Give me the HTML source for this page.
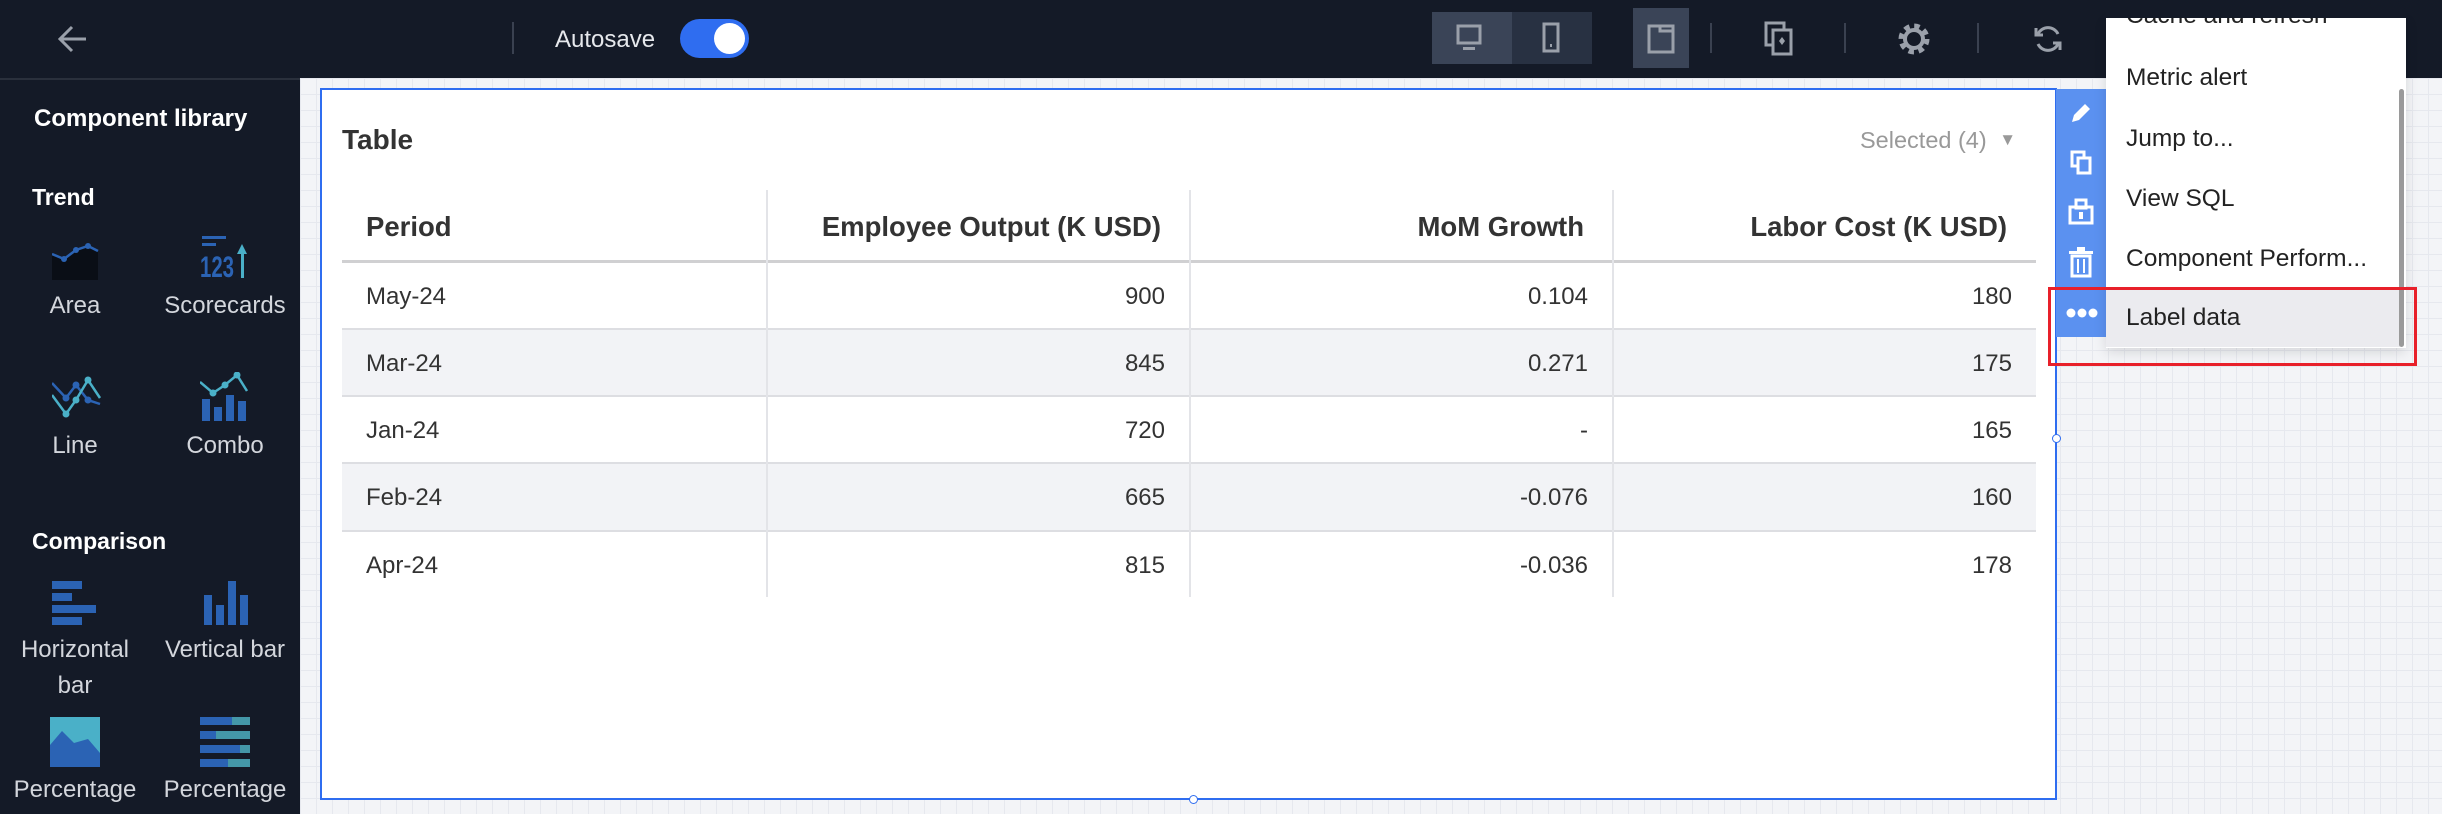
<!DOCTYPE html>
<html><head><meta charset="utf-8"><style>
*{margin:0;padding:0;box-sizing:border-box}
body{width:2442px;height:814px;overflow:hidden;position:relative;font-family:"Liberation Sans",Arial,sans-serif;background:#f3f4f7}
.a{position:absolute;white-space:nowrap}
#top{left:0;top:0;width:2442px;height:78px;background:#141a27}
#side{left:0;top:78px;width:300px;height:736px;background:#141a27;border-top:2px solid #2a303c}
#grid{left:300px;top:78px;width:2142px;height:736px;background-color:#f3f4f7;background-image:linear-gradient(#e6e8ee 1px,transparent 1px),linear-gradient(90deg,#e6e8ee 1px,transparent 1px);background-size:16px 16px}
.sl{color:#d3d6dc;font-size:24px;text-align:center;width:150px}
.sh{color:#fff;font-weight:bold;font-size:23px}
.cell{font-size:24px;color:#333}
.hd{font-size:27.5px;font-weight:bold;color:#333}
.mi{font-size:24.5px;color:#222;left:2126px}
</style></head><body>
<div class="a" id="top"></div>
<div class="a" id="side"></div>
<div class="a" id="grid"></div>

<!-- top bar -->
<svg class="a" style="left:56px;top:24px" width="34" height="30"><path d="M30 15H4M16 3L4 15l12 12" stroke="#9aa0aa" stroke-width="3" fill="none"/></svg>
<div class="a" style="left:512px;top:22px;width:2px;height:32px;background:#3a4150"></div>
<div class="a" style="left:555px;top:26px;color:#e6e8ec;font-size:24px">Autosave</div>
<div class="a" style="left:680px;top:19px;width:69px;height:39px;border-radius:20px;background:#2f6df0"></div>
<div class="a" style="left:714px;top:23px;width:31px;height:31px;border-radius:50%;background:#fff"></div>
<div class="a" style="left:1432px;top:12px;width:80px;height:52px;background:#3a4457"></div>
<div class="a" style="left:1512px;top:12px;width:80px;height:52px;background:#283142"></div>
<svg class="a" style="left:1455px;top:24px" width="34" height="28"><rect x="3" y="2" width="22" height="17" fill="none" stroke="#9aa0aa" stroke-width="3"/><rect x="8" y="23" width="12" height="3" fill="#9aa0aa"/></svg>
<svg class="a" style="left:1540px;top:22px" width="24" height="34"><rect x="4" y="2" width="14" height="27" fill="none" stroke="#9aa0aa" stroke-width="3"/><rect x="10" y="22" width="2" height="3" fill="#9aa0aa"/></svg>
<div class="a" style="left:1633px;top:8px;width:56px;height:60px;background:#3a4457"></div>
<svg class="a" style="left:1646px;top:22px" width="32" height="34"><rect x="3" y="4" width="24" height="26" fill="none" stroke="#9aa0aa" stroke-width="3"/><path d="M14 4v5h13" stroke="#9aa0aa" stroke-width="3" fill="none"/></svg>
<div class="a" style="left:1710px;top:23px;width:2px;height:30px;background:#3a4150"></div>
<div class="a" style="left:1844px;top:23px;width:2px;height:30px;background:#3a4150"></div>
<div class="a" style="left:1977px;top:23px;width:2px;height:30px;background:#3a4150"></div>
<svg class="a" style="left:1764px;top:21px" width="32" height="36"><rect x="2" y="2" width="18" height="22" fill="none" stroke="#9aa0aa" stroke-width="3"/><rect x="9" y="9" width="18" height="24" fill="#141a27" stroke="#9aa0aa" stroke-width="3"/><path d="M18 16l3 4-3 4-3-4z" fill="#9aa0aa"/></svg>
<svg class="a" style="left:1895px;top:20px" width="38" height="38"><circle cx="19" cy="19" r="12" fill="none" stroke="#9aa0aa" stroke-width="7" stroke-dasharray="5 4.4"/><circle cx="19" cy="19" r="9" fill="none" stroke="#9aa0aa" stroke-width="4"/></svg>
<svg class="a" style="left:2032px;top:22px" width="32" height="34"><path d="M26 12A11 11 0 0 0 6 12M6 22a11 11 0 0 0 20 0" stroke="#9aa0aa" stroke-width="3" fill="none"/><path d="M4 6v7h7M28 28v-7h-7" stroke="#9aa0aa" stroke-width="3" fill="none"/></svg>

<!-- sidebar -->
<div class="a" style="left:34px;top:105px;color:#fff;font-weight:bold;font-size:24px">Component library</div>
<div class="a sh" style="left:32px;top:184px">Trend</div>
<svg class="a" style="left:52px;top:240px" width="48" height="42"><path d="M0 14L12 19 24 10 36 6 46 11V40H0z" fill="#0a0e16"/><path d="M0 14L12 19 24 10 36 6 46 11" stroke="#2b63b4" stroke-width="2.5" fill="none"/><circle cx="12" cy="19" r="3" fill="#2b63b4"/><circle cx="24" cy="10" r="3" fill="#2b63b4"/><circle cx="36" cy="6" r="3" fill="#2b63b4"/></svg>
<div class="a sl" style="left:0;top:292px">Area</div>
<svg class="a" style="left:200px;top:236px" width="50" height="44"><rect x="2" y="0" width="24" height="3" fill="#2b63b4"/><rect x="2" y="7" width="14" height="3" fill="#2b63b4"/><text x="0" y="41" font-family="Liberation Sans Narrow,Liberation Sans" font-weight="bold" font-size="30" fill="#2b63b4" textLength="34" lengthAdjust="spacingAndGlyphs">123</text><rect x="41" y="14" width="3" height="28" fill="#4ab0c8"/><path d="M37 18l5-10 5 10z" fill="#4ab0c8"/></svg>
<div class="a sl" style="left:150px;top:292px">Scorecards</div>
<svg class="a" style="left:52px;top:374px" width="50" height="44"><path d="M0 9L14 24 24 11 36 26 48 30" stroke="#2b63b4" stroke-width="2.5" fill="none"/><path d="M0 21L14 40 24 26 36 6 48 24" stroke="#4ab0c8" stroke-width="2.5" fill="none"/><circle cx="14" cy="24" r="3.5" fill="#2b63b4"/><circle cx="24" cy="11" r="3.5" fill="#2b63b4"/><circle cx="36" cy="26" r="3.5" fill="#2b63b4"/><circle cx="14" cy="40" r="3.5" fill="#4ab0c8"/><circle cx="24" cy="26" r="3.5" fill="#4ab0c8"/><circle cx="36" cy="6" r="3.5" fill="#4ab0c8"/></svg>
<div class="a sl" style="left:0;top:432px">Line</div>
<svg class="a" style="left:200px;top:372px" width="50" height="50"><rect x="2" y="27" width="8" height="22" fill="#2b63b4"/><rect x="14" y="35" width="8" height="14" fill="#2b63b4"/><rect x="26" y="23" width="8" height="26" fill="#2b63b4"/><rect x="38" y="29" width="8" height="20" fill="#2b63b4"/><path d="M0 10L13 21 25 13 37 3 47 19" stroke="#4ab0c8" stroke-width="2.5" fill="none"/><circle cx="13" cy="21" r="3.5" fill="#4ab0c8"/><circle cx="25" cy="13" r="3.5" fill="#4ab0c8"/><circle cx="37" cy="3" r="3.5" fill="#4ab0c8"/></svg>
<div class="a sl" style="left:150px;top:432px">Combo</div>
<div class="a sh" style="left:32px;top:528px">Comparison</div>
<svg class="a" style="left:52px;top:581px" width="46" height="46"><rect x="0" y="0" width="30" height="8" fill="#2b63b4"/><rect x="0" y="12" width="20" height="8" fill="#2b63b4"/><rect x="0" y="24" width="44" height="8" fill="#2b63b4"/><rect x="0" y="36" width="30" height="8" fill="#2b63b4"/></svg>
<div class="a sl" style="left:0;top:636px">Horizontal</div>
<div class="a sl" style="left:0;top:672px">bar</div>
<svg class="a" style="left:204px;top:581px" width="46" height="46"><rect x="0" y="14" width="8" height="30" fill="#2b63b4"/><rect x="12" y="24" width="8" height="20" fill="#2b63b4"/><rect x="24" y="0" width="8" height="44" fill="#2b63b4"/><rect x="36" y="14" width="8" height="30" fill="#2b63b4"/></svg>
<div class="a sl" style="left:150px;top:636px">Vertical bar</div>
<svg class="a" style="left:50px;top:717px" width="50" height="50"><rect width="50" height="50" fill="#4ab0c8"/><path d="M0 28L12 14 24 26 38 22 50 36V50H0z" fill="#2b63b4"/></svg>
<svg class="a" style="left:200px;top:717px" width="50" height="50"><rect x="0" y="0" width="32" height="8" fill="#2b63b4"/><rect x="32" y="0" width="18" height="8" fill="#4497a8"/><rect x="0" y="14" width="16" height="8" fill="#2b63b4"/><rect x="16" y="14" width="34" height="8" fill="#4497a8"/><rect x="0" y="28" width="40" height="8" fill="#2b63b4"/><rect x="40" y="28" width="10" height="8" fill="#4497a8"/><rect x="0" y="42" width="28" height="8" fill="#2b63b4"/><rect x="28" y="42" width="22" height="8" fill="#4497a8"/></svg>
<div class="a sl" style="left:0;top:776px">Percentage</div>
<div class="a sl" style="left:150px;top:776px">Percentage</div>

<!-- table panel -->
<div class="a" style="left:320px;top:88px;width:1737px;height:712px;background:#fff;border:2px solid #2f6df0"></div>
<div class="a" style="left:342px;top:124px;font-size:28px;font-weight:bold;color:#333">Table</div>
<div class="a" style="left:1860px;top:127px;font-size:23.5px;color:#999">Selected (4) <span style="font-size:17px;position:relative;top:-3px;margin-left:6px">▼</span></div>
<div class="a" style="left:342px;top:329px;width:1694px;height:67px;background:#f2f3f6"></div>
<div class="a" style="left:342px;top:463px;width:1694px;height:68px;background:#f2f3f6"></div>
<div class="a" style="left:342px;top:260px;width:1694px;height:3px;background:#d0d0d2"></div>
<div class="a" style="left:342px;top:328px;width:1694px;height:2px;background:#dddee2"></div>
<div class="a" style="left:342px;top:395px;width:1694px;height:2px;background:#dddee2"></div>
<div class="a" style="left:342px;top:462px;width:1694px;height:2px;background:#dddee2"></div>
<div class="a" style="left:342px;top:530px;width:1694px;height:2px;background:#dddee2"></div>
<div class="a" style="left:766px;top:190px;width:2px;height:407px;background:#e3e4e8"></div>
<div class="a" style="left:1189px;top:190px;width:2px;height:407px;background:#e3e4e8"></div>
<div class="a" style="left:1612px;top:190px;width:2px;height:407px;background:#e3e4e8"></div>

<div class="a hd" style="left:366px;top:211px">Period</div>
<div class="a hd" style="right:1281px;top:211px">Employee Output (K USD)</div>
<div class="a hd" style="right:858px;top:211px">MoM Growth</div>
<div class="a hd" style="right:435px;top:211px">Labor Cost (K USD)</div>

<div class="a cell" style="left:366px;top:283px">May-24</div>
<div class="a cell" style="left:366px;top:350px">Mar-24</div>
<div class="a cell" style="left:366px;top:417px">Jan-24</div>
<div class="a cell" style="left:366px;top:484px">Feb-24</div>
<div class="a cell" style="left:366px;top:552px">Apr-24</div>
<div class="a cell" style="right:1277px;top:283px">900</div>
<div class="a cell" style="right:1277px;top:350px">845</div>
<div class="a cell" style="right:1277px;top:417px">720</div>
<div class="a cell" style="right:1277px;top:484px">665</div>
<div class="a cell" style="right:1277px;top:552px">815</div>
<div class="a cell" style="right:854px;top:283px">0.104</div>
<div class="a cell" style="right:854px;top:350px">0.271</div>
<div class="a cell" style="right:854px;top:417px">-</div>
<div class="a cell" style="right:854px;top:484px">-0.076</div>
<div class="a cell" style="right:854px;top:552px">-0.036</div>
<div class="a cell" style="right:430px;top:283px">180</div>
<div class="a cell" style="right:430px;top:350px">175</div>
<div class="a cell" style="right:430px;top:417px">165</div>
<div class="a cell" style="right:430px;top:484px">160</div>
<div class="a cell" style="right:430px;top:552px">178</div>

<div class="a" style="left:2052px;top:434px;width:9px;height:9px;border-radius:50%;background:#fff;border:1.5px solid #2f6df0"></div>
<div class="a" style="left:1189px;top:795px;width:9px;height:9px;border-radius:50%;background:#fff;border:1.5px solid #2f6df0"></div>

<!-- side toolbar -->
<div class="a" style="left:2056px;top:89px;width:50px;height:248px;background:#5b91f0"></div>
<svg class="a" style="left:2068px;top:100px" width="26" height="26"><path d="M4 22l2-7 11-11 5 5-11 11z" fill="#fff"/></svg>
<svg class="a" style="left:2070px;top:150px" width="24" height="26"><rect x="2" y="2" width="12" height="14" fill="none" stroke="#fff" stroke-width="3"/><rect x="8" y="8" width="12" height="15" fill="#5b91f0" stroke="#fff" stroke-width="3"/></svg>
<svg class="a" style="left:2068px;top:198px" width="26" height="28"><rect x="8" y="2" width="10" height="8" fill="none" stroke="#fff" stroke-width="3"/><rect x="2" y="9" width="22" height="16" fill="none" stroke="#fff" stroke-width="3"/><rect x="11" y="14" width="4" height="7" fill="#fff"/></svg>
<svg class="a" style="left:2068px;top:246px" width="26" height="32"><rect x="1" y="5" width="24" height="3" fill="#fff"/><rect x="9" y="1" width="8" height="4" fill="#fff"/><rect x="4" y="10" width="18" height="20" fill="none" stroke="#fff" stroke-width="3"/><rect x="9" y="13" width="2" height="14" fill="#fff"/><rect x="15" y="13" width="2" height="14" fill="#fff"/></svg>
<svg class="a" style="left:2066px;top:306px" width="32" height="14"><circle cx="5" cy="7" r="4.5" fill="#fff"/><circle cx="16" cy="7" r="4.5" fill="#fff"/><circle cx="27" cy="7" r="4.5" fill="#fff"/></svg>

<!-- dropdown menu -->
<div class="a" style="left:2106px;top:18px;width:300px;height:330px;background:#fff;box-shadow:0 4px 12px rgba(0,0,0,0.12)"></div>
<div class="a" style="left:2106px;top:290px;width:294px;height:57px;background:#ebebef"></div>
<div class="a" style="left:2399px;top:89px;width:5px;height:258px;border-radius:3px;background:#9a9a9a"></div>
<div class="a mi" style="top:2px">Cache and refresh</div>
<div class="a mi" style="top:64px">Metric alert</div>
<div class="a mi" style="top:125px">Jump to...</div>
<div class="a mi" style="top:185px">View SQL</div>
<div class="a mi" style="top:245px">Component Perform...</div>
<div class="a mi" style="top:304px">Label data</div>
<div class="a" style="left:2106px;top:0;width:300px;height:18px;background:#141a27"></div>
<div class="a" style="left:2048px;top:287px;width:369px;height:79px;border:3px solid #e8202a"></div>
</body></html>
